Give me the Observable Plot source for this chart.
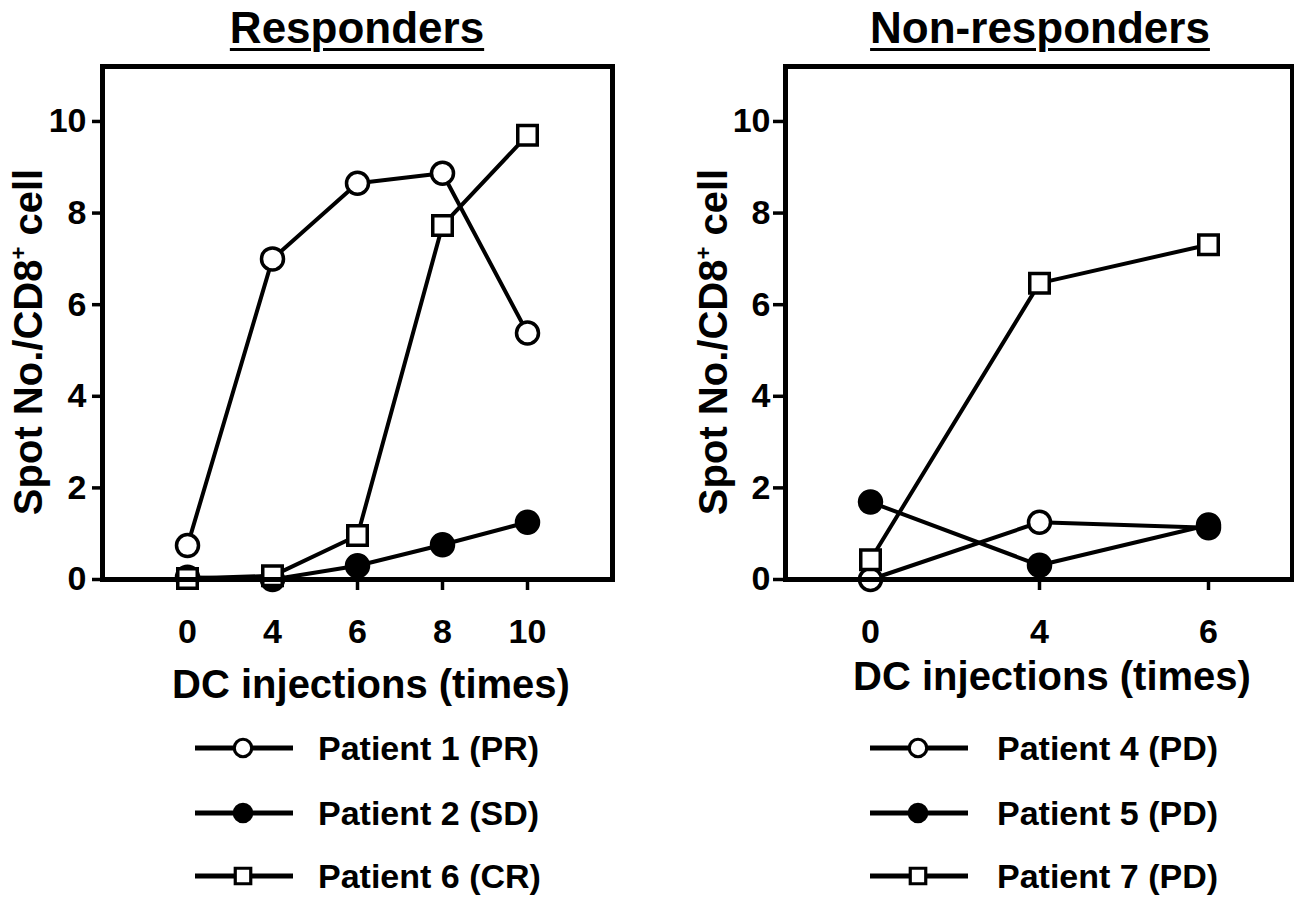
<!DOCTYPE html>
<html>
<head>
<meta charset="utf-8">
<script src="https://cdn.jsdelivr.net/npm/d3@7"></script>
<script src="https://cdn.jsdelivr.net/npm/@observablehq/plot@0.6"></script>
<style>
  html, body { margin: 0; padding: 0; background: #fff; }
  body { font-family: "Liberation Sans", Arial, sans-serif; font-weight: bold; color: #000; }
  #root { position: relative; width: 1294px; height: 897px; overflow: hidden; }
  .abs { position: absolute; white-space: nowrap; line-height: 1; }
  .title { font-size: 44px; text-decoration: underline; text-decoration-thickness: 3px; text-underline-offset: 5px; transform: translateX(-50%); }
  .xtitle { font-size: 40px; transform: translateX(-50%); }
  .ytitle { font-size: 40px; transform: translate(-50%, -50%) rotate(-90deg); }
  .ytitle sup { font-size: 22px; vertical-align: 0.75em; line-height: 0; }
  .leg { font-size: 34px; }
  svg.plot { position: absolute; top: 0; overflow: visible; }
</style>
</head>
<body>
<div id="root"></div>
<script>
// ---------------- data ----------------
const leftInjections = [0, 4, 6, 8, 10];
const rightInjections = [0, 4, 6];
const yTicks = [0, 2, 4, 6, 8, 10];

const patient1 = [0.74, 7.0, 8.65, 8.87, 5.38];   // PR, open circle
const patient2 = [0.05, 0.0, 0.30, 0.76, 1.25];   // SD, filled circle
const patient6 = [0.02, 0.08, 0.96, 7.73, 9.70];  // CR, open square

const patient4 = [0.0, 1.25, 1.13];   // PD, open circle
const patient5 = [1.69, 0.31, 1.19];  // PD, filled circle
const patient7 = [0.43, 6.47, 7.31];  // PD, open square

const leftSeries = [
  {name: "Patient 1 (PR)", values: patient1, symbol: "circle", fill: "white"},
  {name: "Patient 2 (SD)", values: patient2, symbol: "circle", fill: "black"},
  {name: "Patient 6 (CR)", values: patient6, symbol: "square", fill: "white"}
];
const rightSeries = [
  {name: "Patient 4 (PD)", values: patient4, symbol: "circle", fill: "white"},
  {name: "Patient 5 (PD)", values: patient5, symbol: "circle", fill: "black"},
  {name: "Patient 7 (PD)", values: patient7, symbol: "square", fill: "white"}
];

// ---------------- helpers ----------------
function toRows(series, xs) {
  const rows = [];
  series.forEach((s, si) => s.values.forEach((v, i) => rows.push({x: xs[i], y: v, name: s.name, symbol: s.symbol, fill: s.fill, order: si})));
  return rows;
}

function panel(series, xs, opt) {
  const rows = toRows(series, xs);
  const fig = Plot.plot({
    width: opt.width,
    height: 720,
    marginLeft: opt.marginLeft,
    marginRight: opt.marginRight,
    marginTop: 66,
    marginBottom: 141,
    style: {fontFamily: '"Liberation Sans", Arial, sans-serif', fontWeight: "bold", color: "black", background: "transparent", overflow: "visible"},
    x: {type: "point", domain: xs, padding: opt.padding},
    y: {domain: [0, 11.2]},
    symbol: {domain: ["circle", "square"], range: ["circle", "square"]},
    marks: [
      Plot.axisX({ticks: xs, tickSize: 11, tickPadding: 28, fontSize: 34, fontWeight: "bold", strokeWidth: 3.5, label: null}),
      Plot.axisY({ticks: yTicks, tickSize: opt.ytickSize, tickPadding: opt.ytickPadding, fontSize: 34, fontWeight: "bold", strokeWidth: 3.5, label: null}),
      Plot.line(rows, {x: "x", y: "y", z: "name", stroke: "black", strokeWidth: 4}),
      Plot.dot(rows, {x: "x", y: "y", symbol: "symbol", r: 11, fill: "fill", stroke: "black", strokeWidth: 3.5}),
      Plot.frame({stroke: "black", strokeWidth: 5})
    ]
  });
  fig.classList.add("plot");
  fig.style.left = opt.left + "px";
  return fig;
}

const root = document.getElementById("root");
root.appendChild(panel(leftSeries, leftInjections, {left: 0, width: 640, marginLeft: 102, marginRight: 28, padding: 1, ytickSize: 10, ytickPadding: 6}));
root.appendChild(panel(rightSeries, rightInjections, {left: 660, width: 634, marginLeft: 125, marginRight: 2, padding: 0.5, ytickSize: 12, ytickPadding: 3}));

function addText(cls, html, x, y) {
  const d = document.createElement("div");
  d.className = "abs " + cls;
  d.innerHTML = html;
  d.style.left = x + "px";
  d.style.top = y + "px";
  root.appendChild(d);
  return d;
}

// titles
addText("title", "Responders", 357, 6);
addText("title", "Non-responders", 1040, 6);
// x titles
addText("xtitle", "DC injections (times)", 371, 664);
addText("xtitle", "DC injections (times)", 1052, 656);
// y titles
addText("ytitle", "Spot No./CD8<sup>+</sup> cell", 28, 342);
addText("ytitle", "Spot No./CD8<sup>+</sup> cell", 713, 342);

// legends
function legend(series, lineX0, textX, ys) {
  series.forEach((s, i) => {
    const y = ys[i];
    const w = 100, h = 30;
    const svg = d3.create("svg").attr("width", w).attr("height", h)
      .style("position", "absolute").style("left", lineX0 + "px").style("top", (y - h / 2) + "px");
    svg.append("line").attr("x1", 0).attr("x2", w - 2).attr("y1", h / 2).attr("y2", h / 2)
      .attr("stroke", "black").attr("stroke-width", 5);
    const sym = s.symbol === "square" ? d3.symbolSquare : d3.symbolCircle;
    svg.append("path").attr("d", d3.symbol(sym, 240)())
      .attr("transform", `translate(${w / 2 - 2},${h / 2})`)
      .attr("fill", s.fill).attr("stroke", "black").attr("stroke-width", 3.2);
    root.appendChild(svg.node());
    addText("leg", s.name, textX, y - 0.49 * 34);
  });
}
legend(leftSeries, 195, 318, [748, 813, 876]);
legend(rightSeries, 870, 997, [748, 813, 876]);
</script>
</body>
</html>
